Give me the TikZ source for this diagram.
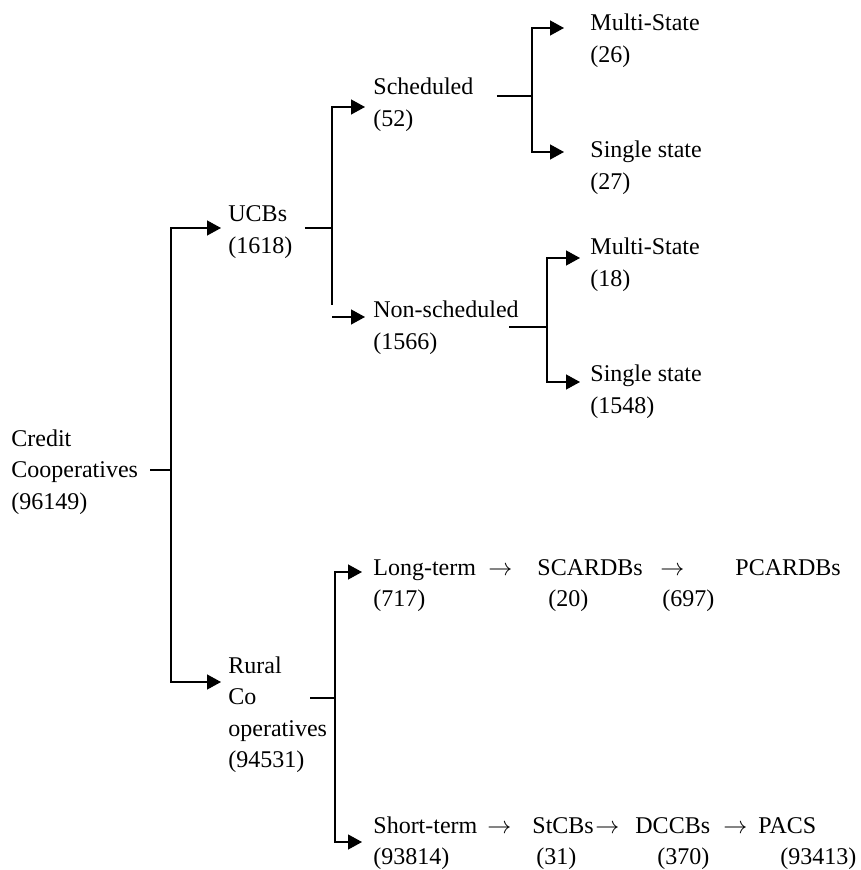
\documentclass[tikz,border=0pt]{standalone}
\usepackage{fontspec}
\setmainfont{Liberation Serif}
\usetikzlibrary{positioning, arrows.meta}

\begin{document}
\begin{tikzpicture}[x=0.5pt,y=-0.5pt,
    every node/.style={anchor=base west,align=left,inner sep=0pt,font=\fontsize{12}{15.75}\selectfont},
    linea/.style={line width=0.65pt},
    flecha/.style={line width=0.65pt,-{Triangle[length=7pt,width=7.5pt]}}]
    \useasboundingbox (0,0) rectangle (860,870);
    % nodos del arbol (base = ultima linea)
    \node (cc) at (11,509) {Credit\\Cooperatives\\(96149)};
    \node (ucbs) at (228,253.5) {UCBs\\(1618)};
    \node (rural) at (228,767.5) {Rural\\Co\\operatives\\(94531)};
    \node (sch) at (373,126.5) {Scheduled\\(52)};
    \node (nsch) at (373,349.5) {Non-scheduled\\(1566)};
    \node (ms1) at (590,62.5) {Multi-State\\(26)};
    \node (ss1) at (590,189.5) {Single state\\(27)};
    \node (ms2) at (590,286.5) {Multi-State\\(18)};
    \node (ss2) at (590,413.5) {Single state\\(1548)};
    \node (lt) at (373,606.5) {Long-term\\(717)};
    \node (st) at (373,864.5) {Short-term\\(93814)};

    % filas de la parte rural
    \node (f1) at (488,575) {$\rightarrow$};
    \node (scardb) at (537,575) {SCARDBs};
    \node (n20) at (548,606.5) {(20)};
    \node (f2) at (660,575) {$\rightarrow$};
    \node (pcardb) at (735,575) {PCARDBs};
    \node (n697) at (662,606.5) {(697)};

    \node (f3) at (487,833) {$\rightarrow$};
    \node (stcb) at (532,833) {StCBs};
    \node (n31) at (536,864.5) {(31)};
    \node (f4) at (595,833) {$\rightarrow$};
    \node (dccb) at (635,833) {DCCBs};
    \node (n370) at (657,864.5) {(370)};
    \node (f5) at (723,833) {$\rightarrow$};
    \node (pacs) at (758,833) {PACS};
    \node (n93413) at (780,864.5) {(93413)};

    % puntos de union y puntas
    \coordinate (j0) at (171,470);
    \coordinate (j1) at (332,228);
    \coordinate (j1e) at (332,305);
    \coordinate (j1n) at (332,317);
    \coordinate (j2) at (532,96);
    \coordinate (j3) at (547,327);
    \coordinate (j4) at (335,698);
    \coordinate (a-ucbs) at (221,228);
    \coordinate (a-rur) at (221,682);
    \coordinate (a-sch) at (365,107);
    \coordinate (a-nsch) at (365,317);
    \coordinate (a-ms1) at (564,28);
    \coordinate (a-ss1) at (564,152);
    \coordinate (a-ms2) at (580,258);
    \coordinate (a-ss2) at (580,382);
    \coordinate (a-lt) at (362,572);
    \coordinate (a-st) at (362,842);

    \draw[linea] (cc.east |- j0) ++(12,0) -- (j0);
    \draw[flecha] (j0) |- (a-ucbs);
    \draw[flecha] (j0) |- (a-rur);

    \draw[linea] (ucbs.east |- j1) ++(12,0) -- (j1);
    \draw[flecha] (j1) |- (a-sch);
    \draw[linea] (j1) -- (j1e);
    \draw[flecha] (j1n) -- (a-nsch);

    \draw[linea] (sch.east |- j2) ++(23,0) -- (j2);
    \draw[flecha] (j2) |- (a-ms1);
    \draw[flecha] (j2) |- (a-ss1);

    \draw[linea] (nsch.east |- j3) ++(-10,0) -- (j3);
    \draw[flecha] (j3) |- (a-ms2);
    \draw[flecha] (j3) |- (a-ss2);

    \draw[linea] (rural.east |- j4) ++(-17,0) -- (j4);
    \draw[flecha] (j4) |- (a-lt);
    \draw[flecha] (j4) |- (a-st);
\end{tikzpicture}
\end{document}
